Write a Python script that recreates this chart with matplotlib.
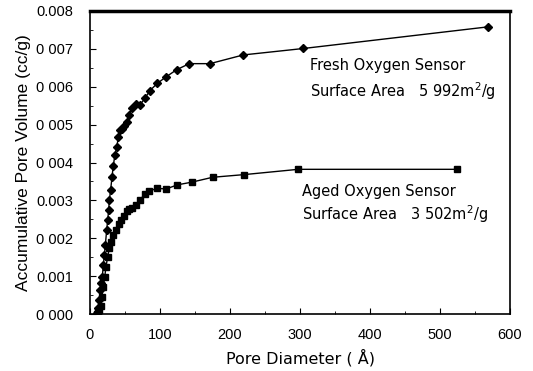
import matplotlib
matplotlib.use("Agg")
import matplotlib.pyplot as plt
from matplotlib.ticker import MultipleLocator

fresh_x = [10.5, 11.9, 13.3, 14.8, 16.2, 17.6, 19.0, 20.5, 21.9, 23.8, 25.2, 26.7, 27.6,
           29.5, 31.4, 33.3, 35.7, 38.1, 40.5, 42.9, 46.2, 49.0, 52.4, 56.2, 59.5,
           65.7, 71.4, 78.6, 85.7, 96.2, 108.6, 123.8, 141.9, 171.4, 219.0, 304.8, 568.0]
fresh_y = [0.00002, 0.00015, 0.00037, 0.00063, 0.00081, 0.00098, 0.00129, 0.00155, 0.00182,
           0.00221, 0.00247, 0.00275, 0.00300, 0.00328, 0.00361, 0.00392, 0.00421, 0.00440,
           0.00467, 0.00486, 0.00489, 0.00497, 0.00506, 0.00526, 0.00544, 0.00554, 0.00552,
           0.00570, 0.00590, 0.00609, 0.00626, 0.00645, 0.00661, 0.00661, 0.00684, 0.00701,
           0.00758]

aged_x = [9.5, 11.4, 13.3, 15.2, 17.1, 19.0, 21.0, 22.9, 25.2, 27.6, 30.0, 33.3, 37.1, 41.0,
          44.3, 48.6, 52.4, 55.7, 60.0, 65.7, 71.4, 78.6, 84.8, 95.2, 108.6, 124.8, 145.2,
          175.2, 220.0, 297.6, 523.8]
aged_y = [0.0, 0.00004, 0.00010, 0.00020, 0.00046, 0.00072, 0.00098, 0.00125, 0.00151,
          0.00173, 0.00190, 0.00208, 0.00223, 0.00237, 0.00249, 0.00260, 0.00271, 0.00278,
          0.00281, 0.00289, 0.00302, 0.00316, 0.00324, 0.00332, 0.00330, 0.00341, 0.00348,
          0.00361, 0.00368, 0.00382, 0.00382]

x_ticks = [0, 100, 200, 300, 400, 500, 600]
y_ticks = [0.000, 0.001, 0.002, 0.003, 0.004, 0.005, 0.006, 0.007, 0.008]
y_tick_labels = ["0 000", "0.001", "0 002", "0.003", "0 004", "0 005", "0 006", "0 007", "0.008"]

plt.rcParams['font.family'] = ['Liberation Sans', 'DejaVu Sans']
fig = plt.figure(figsize=(5.33, 3.71), dpi=100)
ax = fig.add_axes([90/533, 1 - 314/371, 420/533, 303/371])

ax.plot(fresh_x, fresh_y, color='black', lw=1.0, marker='D', ms=4)
ax.plot(aged_x, aged_y, color='black', lw=1.0, marker='s', ms=4)

ax.set_xlim(0, 600)
ax.set_ylim(0, 0.008)
ax.set_xticks(x_ticks)
ax.set_yticks(y_ticks)
ax.set_yticklabels(y_tick_labels)
ax.xaxis.set_minor_locator(MultipleLocator(50))
ax.yaxis.set_minor_locator(MultipleLocator(0.0005))
ax.tick_params(which='both', direction='in', top=False, right=False, labelsize=10.5)
ax.tick_params(which='major', length=4)
ax.tick_params(which='minor', length=2.5)
ax.tick_params(axis='x', pad=10)
ax.tick_params(axis='y', pad=12)

for s in ['left', 'bottom', 'right']:
    ax.spines[s].set_linewidth(1.2)
ax.spines['top'].set_linewidth(2.5)

ax.set_xlabel("Pore Diameter ( Å)", fontsize=11.5, labelpad=5,
              family=['DejaVu Sans'], fontweight='medium')
ax.set_ylabel("Accumulative Pore Volume (cc/g)", fontsize=12.5, labelpad=4)

fs = 10.5
tf = ['DejaVu Sans']
ax.text(0.524, 0.82, "Fresh Oxygen Sensor", transform=ax.transAxes, fontsize=fs, va='center', family=tf)
ax.text(0.524, 0.735, "Surface Area   5 992m$^2$/g", transform=ax.transAxes, fontsize=fs, va='center', family=tf)
ax.text(0.505, 0.405, "Aged Oxygen Sensor", transform=ax.transAxes, fontsize=fs, va='center', family=tf)
ax.text(0.505, 0.33, "Surface Area   3 502m$^2$/g", transform=ax.transAxes, fontsize=fs, va='center', family=tf)

fig.savefig("out.png", dpi=100)
